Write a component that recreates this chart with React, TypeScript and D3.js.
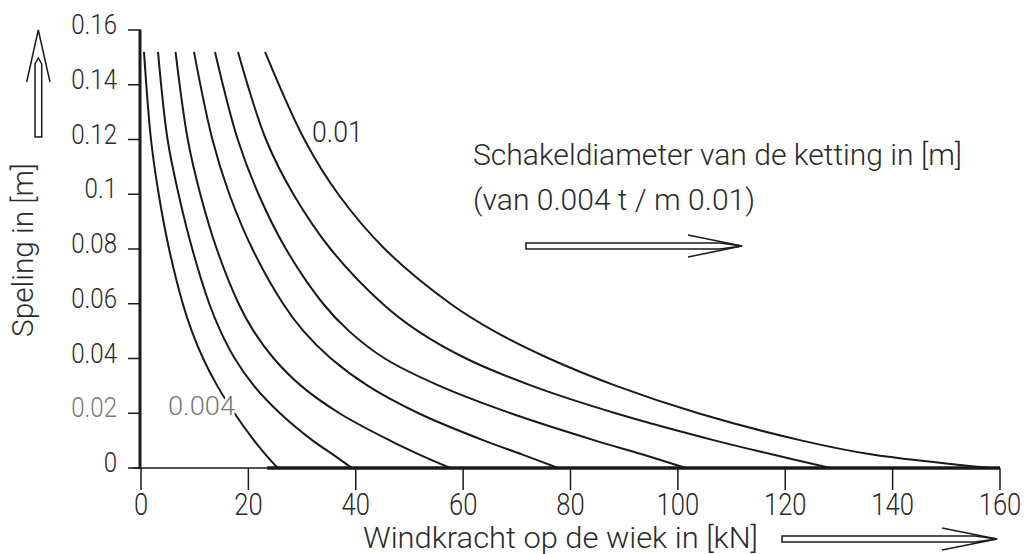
import React from "react";
import * as d3 from "d3";

// Speling levels (y, in m) at which each curve was read
const yLevels = [0.152, 0.12, 0.1, 0.08, 0.06, 0.05, 0.04, 0.03, 0.02, 0.01, 0.005, 0];

// Windkracht (kN) per curve at those levels; schakeldiameter 0.004 ... 0.01
const curve004 = [0.56, 1.86, 3.3, 5.23, 7.79, 9.46, 11.57, 14.21, 17.41, 21.08, 23.17, 25.46];
const curve005 = [3.17, 4.95, 7.0, 9.55, 12.72, 14.81, 17.47, 21.05, 25.89, 32.0, 35.71, 39.28];
const curve006 = [6.43, 8.71, 11.05, 14.11, 18.19, 20.98, 24.73, 29.83, 36.96, 46.39, 51.75, 57.62];
const curve007 = [9.87, 13.3, 16.46, 20.75, 26.47, 30.27, 35.39, 42.28, 51.7, 63.92, 70.94, 77.7];
const curve008 = [13.78, 18.02, 21.89, 27.0, 33.93, 38.75, 45.41, 55.61, 68.86, 84.65, 93.33, 101.49];
const curve009 = [18.07, 23.28, 28.39, 35.31, 45.0, 51.59, 60.55, 72.84, 88.41, 107.0, 117.47, 128.44];
const curve010 = [23.1, 30.43, 36.75, 45.41, 57.65, 65.77, 76.01, 88.51, 103.8, 123.15, 135.91, 158.13];

const curves = [curve004, curve005, curve006, curve007, curve008, curve009, curve010];

const xTicks = [0, 20, 40, 60, 80, 100, 120, 140, 160];
const yTicks = [0, 0.02, 0.04, 0.06, 0.08, 0.1, 0.12, 0.14, 0.16];
const yTickLabels = ["0", "0.02", "0.04", "0.06", "0.08", "0.1", "0.12", "0.14", "0.16"];

const xTitle = "Windkracht op de wiek in [kN]";
const yTitle = "Speling in [m]";
const legendLine1 = "Schakeldiameter van de ketting in [m]";
const legendLine2 = "(van 0.004 t / m 0.01)";
const firstLabel = "0.004";
const lastLabel = "0.01";

const FONT = "Roboto, 'Liberation Sans', sans-serif";
const textInk = "#2a2a2a";
const ink = "#1a1a1a";

function CText(props: {
  x: number;
  y: number;
  size: number;
  anchor?: string;
  sx?: number;
  fill?: string;
  children: React.ReactNode;
}) {
  const { x, y, size, anchor = "start", sx = 0.8, fill = textInk, children } = props;
  return (
    <text
      transform={`translate(${x},${y}) scale(${sx},1)`}
      textAnchor={anchor}
      fontSize={size}
      fontWeight={300}
      fill={fill}
    >
      {children}
    </text>
  );
}

export default function App() {
  const W = 1028;
  const H = 554;
  const x = d3.scaleLinear().domain([0, 160]).range([141, 1000]);
  const y = d3.scaleLinear().domain([0, 0.16]).range([468, 30]);

  const line = d3
    .line<[number, number]>()
    .x((d) => x(d[0]))
    .y((d) => y(d[1]))
    .curve(d3.curveCatmullRom.alpha(0.5));

  return (
    <svg
      width={W}
      height={H}
      style={{ position: "absolute", left: 0, top: 0, background: "#fff" }}
      fontFamily={FONT}
    >
      <rect x={0} y={0} width={W} height={H} fill="#fff" />

      {/* curves */}
      {curves.map((c, i) => {
        const pts = c.map((v, k) => [v, yLevels[k]] as [number, number]);
        return <path key={i} d={line(pts) || ""} fill="none" stroke={ink} strokeWidth={2} />;
      })}

      {/* x axis */}
      <line x1={x(0) - 8} x2={x(160)} y1={y(0)} y2={y(0)} stroke={ink} strokeWidth={1.5} />
      <line x1={x(23.5)} x2={x(160)} y1={y(0)} y2={y(0)} stroke={ink} strokeWidth={3.5} />
      {xTicks.map((t) => (
        <g key={t}>
          <line x1={x(t)} x2={x(t)} y1={y(0)} y2={y(0) + 22} stroke={ink} strokeWidth={1.5} />
          <CText x={x(t)} y={515} size={32} anchor="middle" sx={0.8}>
            {t}
          </CText>
        </g>
      ))}

      {/* y axis */}
      <line x1={x(0) - 1} x2={x(0) - 1} y1={y(0.16)} y2={y(0) + 1} stroke={ink} strokeWidth={3} />
      {yTicks.map((t, i) => (
        <g key={t}>
          <line x1={x(0) - 13} x2={x(0)} y1={y(t)} y2={y(t)} stroke={ink} strokeWidth={1.5} />
          <CText x={117} y={y(t) + 4} size={28} anchor="end" sx={0.86} fill={t === 0.02 ? "#777" : textInk}>
            {yTickLabels[i]}
          </CText>
        </g>
      ))}

      {/* curve labels */}
      <CText x={312} y={142} size={29} sx={0.92}>
        {lastLabel}
      </CText>
      <text
        x={168}
        y={415}
        fontSize={25}
        fontWeight={300}
        fill="#777"
        stroke="#fff"
        strokeWidth={5}
        paintOrder="stroke"
        textLength={67}
        lengthAdjust="spacingAndGlyphs"
      >
        {firstLabel}
      </text>

      {/* legend text */}
      <text x={473} y={165} fontSize={30} fontWeight={300} fill={textInk} textLength={489} lengthAdjust="spacingAndGlyphs">
        {legendLine1}
      </text>
      <text x={473} y={210} fontSize={30} fontWeight={300} fill={textInk} textLength={282} lengthAdjust="spacingAndGlyphs">
        {legendLine2}
      </text>
      {/* legend arrow */}
      <path d="M526,243 L720,243 L742,246 L720,249 L526,249 Z" fill="none" stroke={ink} strokeWidth={1.5} />
      <path d="M688,235 L742,246 L688,257" fill="none" stroke={ink} strokeWidth={1.5} />

      {/* x title + arrow */}
      <text x={363} y={548} fontSize={30} fontWeight={300} fill={textInk} textLength={395} lengthAdjust="spacingAndGlyphs">
        {xTitle}
      </text>
      <path d="M782,536 L975,536 L997,539 L975,542 L782,542 Z" fill="none" stroke={ink} strokeWidth={1.5} />
      <path d="M942,528 L997,539 L942,550" fill="none" stroke={ink} strokeWidth={1.5} />

      {/* y title + arrow */}
      <text
        transform="translate(33,250) rotate(-90)"
        textAnchor="middle"
        fontSize={29}
        fontWeight={300}
        fill={textInk}
        textLength={174}
        lengthAdjust="spacingAndGlyphs"
      >
        {yTitle}
      </text>
      <path d="M35,137 L35,64 L38.3,58 L41.7,64 L41.7,137 Z" fill="none" stroke={ink} strokeWidth={1.5} />
      <path d="M26.7,82 L38.3,30 L50,82" fill="none" stroke={ink} strokeWidth={1.5} />
    </svg>
  );
}
